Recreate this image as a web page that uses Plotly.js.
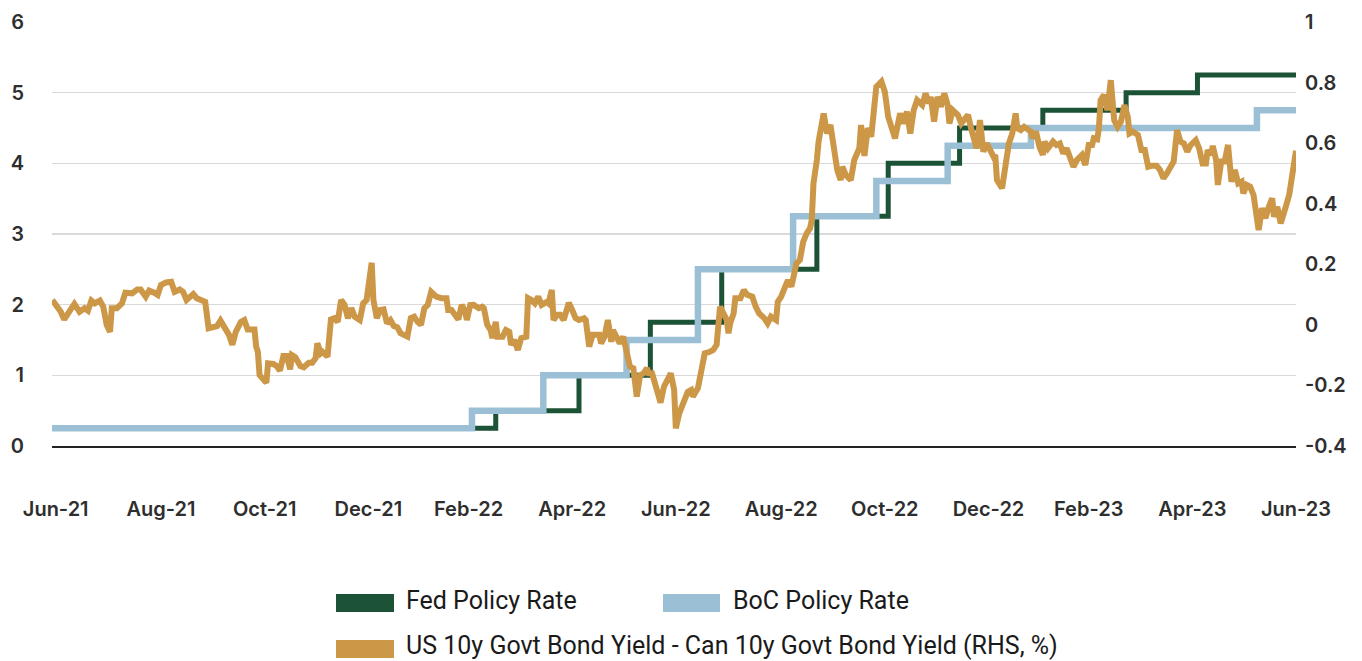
<!DOCTYPE html>
<html>
<head>
<meta charset="utf-8">
<script src="https://cdn.plot.ly/plotly-3.0.1.min.js"></script>
<style>html,body{margin:0;padding:0;background:#fff;}#chart{width:1362px;height:661px;}</style>
</head>
<body>
<div id="chart"></div>
<script>
// Fed policy rate (upper bound), step series
const fedDates = ["2021-06-20","2022-03-16","2022-05-04","2022-06-15","2022-07-27","2022-09-21","2022-11-02","2022-12-14","2023-02-01","2023-03-22","2023-05-03","2023-06-30"];
const fedRates = [0.25,0.5,1.0,1.75,2.5,3.25,4.0,4.5,4.75,5.0,5.25,5.25];
// BoC policy rate, step series
const bocDates = ["2021-06-20","2022-03-02","2022-04-13","2022-06-01","2022-07-13","2022-09-07","2022-10-26","2022-12-07","2023-01-25","2023-06-07","2023-06-30"];
const bocRates = [0.25,0.5,1.0,1.5,2.5,3.25,3.75,4.25,4.5,4.75,4.75];
// US 10y - Can 10y spread (RHS, %)
const spreadDates = [
"2021-06-28","2021-07-03","2021-07-05","2021-07-08","2021-07-11","2021-07-14","2021-07-17","2021-07-19","2021-07-21","2021-07-23","2021-07-26","2021-07-28","2021-07-30",
"2021-08-01","2021-08-02","2021-08-05","2021-08-08","2021-08-10","2021-08-14","2021-08-17","2021-08-19","2021-08-22","2021-08-24","2021-08-27","2021-08-29","2021-08-31",
"2021-09-03","2021-09-06","2021-09-08","2021-09-11","2021-09-13","2021-09-15","2021-09-17","2021-09-19","2021-09-21","2021-09-24","2021-09-26","2021-09-28","2021-09-30",
"2021-10-03","2021-10-05","2021-10-07","2021-10-10","2021-10-12","2021-10-14","2021-10-17","2021-10-19","2021-10-21","2021-10-25","2021-10-26","2021-10-27","2021-10-28","2021-10-30",
"2021-11-01","2021-11-02","2021-11-05","2021-11-07","2021-11-09","2021-11-11","2021-11-13","2021-11-15","2021-11-16","2021-11-18","2021-11-21","2021-11-23","2021-11-26","2021-11-28","2021-11-30",
"2021-12-01","2021-12-03","2021-12-04","2021-12-07","2021-12-09","2021-12-11","2021-12-13","2021-12-15","2021-12-17","2021-12-19","2021-12-21","2021-12-23","2021-12-26","2021-12-28","2021-12-30",
"2022-01-02","2022-01-03","2022-01-05","2022-01-07","2022-01-09","2022-01-11","2022-01-13","2022-01-15","2022-01-17","2022-01-19","2022-01-22","2022-01-23","2022-01-25","2022-01-27","2022-01-29","2022-01-31",
"2022-02-02","2022-02-04","2022-02-06","2022-02-09","2022-02-12","2022-02-15","2022-02-16","2022-02-18","2022-02-20","2022-02-22","2022-02-24","2022-02-26","2022-02-27",
"2022-03-01","2022-03-03","2022-03-06","2022-03-08","2022-03-09","2022-03-11","2022-03-13","2022-03-14","2022-03-16","2022-03-17","2022-03-20","2022-03-22","2022-03-24","2022-03-25","2022-03-27","2022-03-29","2022-03-31",
"2022-04-03","2022-04-04","2022-04-06","2022-04-08","2022-04-10","2022-04-12","2022-04-15","2022-04-16","2022-04-18","2022-04-19","2022-04-21","2022-04-23","2022-04-25","2022-04-28","2022-04-30",
"2022-05-02","2022-05-04","2022-05-07","2022-05-08","2022-05-10","2022-05-12","2022-05-14","2022-05-16","2022-05-17","2022-05-19","2022-05-21","2022-05-23","2022-05-24","2022-05-26","2022-05-28","2022-05-30",
"2022-06-01","2022-06-03","2022-06-05","2022-06-07","2022-06-09","2022-06-11","2022-06-13","2022-06-14","2022-06-16","2022-06-19","2022-06-21","2022-06-23","2022-06-25","2022-06-27","2022-06-29","2022-06-30",
"2022-07-02","2022-07-05","2022-07-07","2022-07-09","2022-07-10","2022-07-13","2022-07-15","2022-07-17","2022-07-20","2022-07-22","2022-07-24","2022-07-26","2022-07-28","2022-07-30","2022-07-31",
"2022-08-01","2022-08-03","2022-08-04","2022-08-07","2022-08-09","2022-08-11","2022-08-14","2022-08-16","2022-08-18","2022-08-21","2022-08-23","2022-08-25","2022-08-28","2022-08-29","2022-08-31",
"2022-09-02","2022-09-04","2022-09-06","2022-09-08","2022-09-09","2022-09-11","2022-09-13","2022-09-15","2022-09-17","2022-09-18","2022-09-19","2022-09-21","2022-09-22","2022-09-25","2022-09-27","2022-09-29",
"2022-10-01","2022-10-03","2022-10-05","2022-10-06","2022-10-08","2022-10-11","2022-10-13","2022-10-16","2022-10-17","2022-10-19","2022-10-21","2022-10-23","2022-10-25","2022-10-26","2022-10-29","2022-10-31",
"2022-11-02","2022-11-04","2022-11-06","2022-11-09","2022-11-11","2022-11-13","2022-11-15","2022-11-17","2022-11-19","2022-11-22","2022-11-24","2022-11-26","2022-11-27","2022-11-29",
"2022-12-01","2022-12-03","2022-12-05","2022-12-07","2022-12-08","2022-12-10","2022-12-13","2022-12-15","2022-12-17","2022-12-19","2022-12-21","2022-12-22","2022-12-24","2022-12-26","2022-12-28","2022-12-30",
"2023-01-01","2023-01-03","2023-01-04","2023-01-05","2023-01-08","2023-01-10","2023-01-12","2023-01-14","2023-01-16","2023-01-17","2023-01-19","2023-01-21","2023-01-23","2023-01-25","2023-01-26","2023-01-28","2023-01-30",
"2023-02-01","2023-02-02","2023-02-04","2023-02-07","2023-02-09","2023-02-11","2023-02-13","2023-02-15","2023-02-17","2023-02-19","2023-02-21","2023-02-24","2023-02-26","2023-02-28",
"2023-03-02","2023-03-03","2023-03-05","2023-03-06","2023-03-07","2023-03-09","2023-03-11","2023-03-13","2023-03-14","2023-03-15","2023-03-17","2023-03-19","2023-03-21","2023-03-23","2023-03-24","2023-03-26","2023-03-29","2023-03-31",
"2023-04-02","2023-04-04","2023-04-06","2023-04-09","2023-04-11","2023-04-13","2023-04-15","2023-04-17","2023-04-19","2023-04-21","2023-04-23","2023-04-25","2023-04-27","2023-04-29",
"2023-05-02","2023-05-04","2023-05-06","2023-05-08","2023-05-09","2023-05-11","2023-05-12","2023-05-14","2023-05-15","2023-05-17","2023-05-19","2023-05-21","2023-05-23","2023-05-25","2023-05-27","2023-05-29","2023-05-30",
"2023-06-01","2023-06-03","2023-06-05","2023-06-06","2023-06-08","2023-06-10","2023-06-12","2023-06-14","2023-06-16","2023-06-17","2023-06-19","2023-06-21","2023-06-23","2023-06-24","2023-06-26","2023-06-28","2023-06-29","2023-06-30"
];
const spreadVals = [
0.082,0.043,0.018,0.043,0.069,0.043,0.055,0.047,0.080,0.071,0.080,0.060,0.000,
-0.023,0.055,0.055,0.071,0.106,0.104,0.117,0.117,0.093,0.113,0.106,0.099,0.132,
0.140,0.142,0.109,0.117,0.109,0.082,0.093,0.102,0.088,0.082,0.076,-0.011,-0.008,
-0.004,0.014,-0.008,-0.033,-0.066,-0.023,0.010,0.016,-0.015,-0.015,-0.072,-0.089,-0.166,-0.176,
-0.191,-0.127,-0.129,-0.136,-0.151,-0.103,-0.103,-0.147,-0.100,-0.107,-0.136,-0.140,-0.125,-0.125,-0.110,
-0.061,-0.094,-0.089,-0.105,0.018,0.022,0.010,0.082,0.066,0.022,0.055,0.027,0.016,0.071,0.082,
0.205,0.082,0.022,0.049,0.051,0.005,0.016,-0.004,-0.008,-0.028,-0.033,-0.039,0.022,0.027,0.010,0.000,
0.055,0.066,0.109,0.093,0.088,0.088,0.049,0.049,0.033,0.018,0.066,0.043,0.016,
0.065,0.066,0.055,0.060,0.055,0.000,-0.017,-0.044,0.010,-0.039,-0.039,-0.017,-0.023,-0.066,-0.050,-0.083,-0.044,
-0.039,0.088,0.082,0.071,0.093,0.066,0.076,0.071,0.115,0.016,0.033,0.033,0.016,0.073,0.049,
0.022,0.016,0.022,0.016,-0.072,-0.033,-0.033,-0.033,-0.061,-0.039,0.016,-0.056,-0.017,-0.044,-0.061,-0.039,
-0.100,-0.138,-0.143,-0.237,-0.166,-0.160,-0.143,-0.160,-0.160,-0.215,-0.257,-0.204,-0.176,-0.160,-0.215,-0.342,
-0.292,-0.248,-0.221,-0.215,-0.237,-0.209,-0.149,-0.094,-0.089,-0.083,-0.066,0.060,0.038,0.016,-0.028,
0.005,0.038,0.088,0.088,0.115,0.099,0.093,0.060,0.038,0.022,0.005,0.027,0.016,0.076,0.093,
0.121,0.148,0.126,0.170,0.203,0.214,0.275,0.302,0.319,0.346,0.467,0.544,0.605,0.698,0.632,0.660,
0.588,0.511,0.478,0.522,0.495,0.478,0.544,0.583,0.660,0.558,0.650,0.621,0.732,0.786,0.803,0.770,
0.687,0.643,0.616,0.698,0.665,0.704,0.632,0.709,0.742,0.726,0.764,0.732,0.753,0.671,
0.753,0.720,0.764,0.726,0.665,0.709,0.693,0.665,0.682,0.693,0.643,0.621,0.583,0.676,0.572,0.599,
0.572,0.555,0.561,0.478,0.451,0.522,0.599,0.632,0.698,0.649,0.643,0.654,0.643,0.638,0.616,0.638,0.588,
0.561,0.605,0.583,0.605,0.594,0.599,0.566,0.583,0.545,0.522,0.544,0.561,0.528,0.594,
0.594,0.616,0.613,0.649,0.742,0.759,0.709,0.808,0.742,0.676,0.654,0.671,0.726,0.687,0.632,0.638,0.627,0.577,
0.577,0.522,0.525,0.525,0.511,0.484,0.500,0.522,0.539,0.643,0.605,0.599,0.572,0.594,
0.610,0.583,0.533,0.533,0.577,0.561,0.591,0.544,0.462,0.539,0.539,0.594,0.473,0.511,0.467,0.473,0.434,
0.462,0.456,0.429,0.379,0.313,0.385,0.352,0.390,0.418,0.357,0.390,0.335,0.363,0.390,0.429,0.495,0.517,0.575
];
const tickDates = ["2021-06-30","2021-08-31","2021-10-31","2021-12-31","2022-02-28","2022-04-30","2022-06-30","2022-08-31","2022-10-31","2022-12-31","2023-02-28","2023-04-30","2023-06-30"];
const tickLabels = ["Jun-21","Aug-21","Oct-21","Dec-21","Feb-22","Apr-22","Jun-22","Aug-22","Oct-22","Dec-22","Feb-23","Apr-23","Jun-23"];
const seriesNames = ["Fed Policy Rate","BoC Policy Rate","US 10y Govt Bond Yield - Can 10y Govt Bond Yield (RHS, %)"];
const colors = ["#1c5235","#9bc0d5","#cd9748"];

const tickFont = {family: "Inter, 'Open Sans', sans-serif", size: 20, color: "#2e2e2e", weight: 600};

const traces = [
  {x: fedDates, y: fedRates, name: seriesNames[0], type: "scatter", mode: "lines", line: {color: colors[0], width: 5, shape: "hv"}, yaxis: "y", showlegend: false},
  {x: bocDates, y: bocRates, name: seriesNames[1], type: "scatter", mode: "lines", line: {color: colors[1], width: 6.5, shape: "hv"}, yaxis: "y", showlegend: false},
  {x: spreadDates, y: spreadVals, name: seriesNames[2], type: "scatter", mode: "lines", line: {color: colors[2], width: 6, shape: "linear"}, yaxis: "y2", showlegend: false}
];

function px2paperX(p){ return (p - 52) / 1244; }
function px2paperY(p){ return (446 - p) / 424; }

const legendItems = [
  {sx0: 336, sx1: 394, sy: 603, tx: 404, ty: 600},
  {sx0: 663, sx1: 720, sy: 603, tx: 731, ty: 600},
  {sx0: 336, sx1: 394, sy: 649, tx: 404, ty: 645}
];
const shapes = legendItems.map((it, i) => ({
  type: "rect", xref: "paper", yref: "paper",
  x0: px2paperX(it.sx0), x1: px2paperX(it.sx1),
  y0: px2paperY(it.sy + 9), y1: px2paperY(it.sy - 9),
  fillcolor: colors[i], line: {width: 0}
}));
const annotations = legendItems.map((it, i) => ({
  xref: "paper", yref: "paper", x: px2paperX(it.tx), y: px2paperY(it.ty),
  xanchor: "left", yanchor: "middle", showarrow: false, text: seriesNames[i],
  font: {family: "Roboto, 'Liberation Sans', sans-serif", size: 25, color: "#1a1a1a"}
}));

const layout = {
  width: 1362, height: 661,
  margin: {l: 52, r: 66, t: 22, b: 215},
  paper_bgcolor: "#ffffff", plot_bgcolor: "#ffffff",
  showlegend: false,
  xaxis: {
    type: "date", range: ["2021-06-27 20:00", "2023-06-30"],
    tickvals: tickDates, ticktext: tickLabels, tickfont: tickFont,
    showgrid: false, zeroline: false, showline: true, linecolor: "#222222", linewidth: 2,
    ticks: "", ticklabelstandoff: 44
  },
  yaxis: {
    range: [0, 6], tickvals: [0,1,2,3,4,5,6], tickfont: tickFont,
    showgrid: true, gridcolor: "#d9d9d9", gridwidth: 1.5, zeroline: false, showline: false,
    ticks: "", ticklabelstandoff: 27
  },
  yaxis2: {
    range: [-0.4, 1], tickvals: [-0.4,-0.2,0,0.2,0.4,0.6,0.8,1], ticktext: ["-0.4","-0.2","0","0.2","0.4","0.6","0.8","1"],
    tickfont: tickFont, overlaying: "y", side: "right",
    showgrid: false, zeroline: false, showline: false, ticks: "", ticklabelstandoff: 8
  },
  shapes: shapes,
  annotations: annotations
};

Plotly.newPlot("chart", traces, layout, {displayModeBar: false, staticPlot: true});
</script>
</body>
</html>
